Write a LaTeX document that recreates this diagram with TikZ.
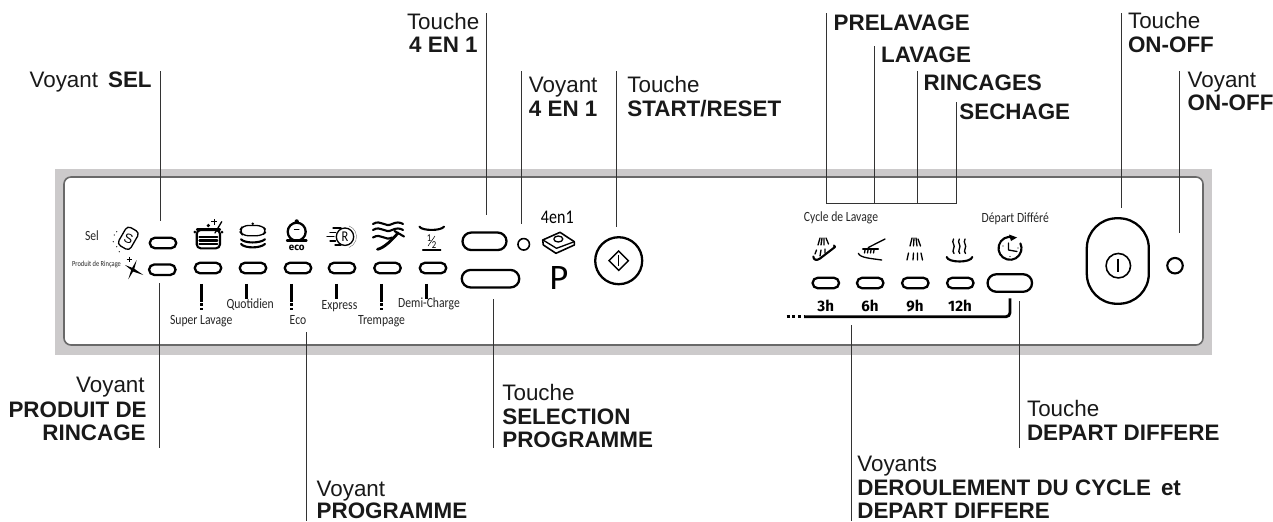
\documentclass[tikz,border=0pt]{standalone}
\usepackage{fontspec}
\setmainfont{Liberation Sans}
\newfontfamily\panelfont[FakeStretch=0.83]{Carlito}
\newfontfamily\hourfont{Fira Sans}
\usepackage{tikz}
\usetikzlibrary{shapes.misc,shapes.geometric}
\definecolor{framegray}{RGB}{204,202,203}
\definecolor{edgegray}{RGB}{105,105,105}
\tikzset{
  lbl/.style={inner sep=0pt,font=\fontsize{12.75}{13.6}\selectfont,text=black!90},
  plab/.style={inner sep=0pt,font=\panelfont\fontsize{8}{9}\selectfont,text=black!85},
  hlab/.style={inner sep=0pt,font=\hourfont\bfseries\fontsize{8.6}{9}\selectfont},
  leader/.style={line width=0.5pt,black!80},
  lamp/.style={draw,rounded rectangle,inner sep=0pt,line width=1.3pt,minimum width=0.53cm,minimum height=0.21cm},
  bigkey/.style={draw,rounded rectangle,inner sep=0pt,line width=1.3pt,minimum height=0.35cm},
  led/.style={draw,circle,inner sep=0pt,line width=0.9pt},
  prgbar/.style={line width=1.6pt},
  prgdots/.style={line width=1.6pt,dash pattern=on 1.5pt off 1.2pt},
  icon/.style={line width=0.75pt,line cap=round,line join=round},
  iconb/.style={line width=1.2pt,line cap=round,line join=round}
}
\begin{document}
\begin{tikzpicture}[x=0.02cm,y=-0.02cm]
\useasboundingbox (0,0) rectangle (1273,521);
\fill[framegray] (55,169) rectangle (1212,355);
\draw[edgegray,fill=white,line width=0.9pt,rounded corners=0.14cm] (64,177) rectangle (1203,345);

\coordinate (sel1) at (160,71); \coordinate (sel2) at (160,221); \draw[leader] (sel1) -- (sel2);
\coordinate (tq1) at (486.7,13); \coordinate (tq2) at (486.7,215); \draw[leader] (tq1) -- (tq2);
\coordinate (vq1) at (521.5,71); \coordinate (vq2) at (521.5,224); \draw[leader] (vq1) -- (vq2);
\coordinate (st1) at (616.7,71); \coordinate (st2) at (616.7,227); \draw[leader] (st1) -- (st2);
\coordinate (pre1) at (826,13); \coordinate (pre2) at (826,203.5); \draw[leader] (pre1) -- (pre2);
\coordinate (lav1) at (874.3,46); \coordinate (lav2) at (874.3,203.5); \draw[leader] (lav1) -- (lav2);
\coordinate (rin1) at (917.7,71); \coordinate (rin2) at (917.7,203.5); \draw[leader] (rin1) -- (rin2);
\coordinate (sec1) at (956,102); \coordinate (sec2) at (956,203.5); \draw[leader] (sec1) -- (sec2);
\draw[leader] (pre2) -- (sec2);
\coordinate (to1) at (1121,13); \coordinate (to2) at (1121,208); \draw[leader] (to1) -- (to2);
\coordinate (vo1) at (1179.3,71); \coordinate (vo2) at (1179.3,233); \draw[leader] (vo1) -- (vo2);
\coordinate (pd1) at (159,283); \coordinate (pd2) at (159,448); \draw[leader] (pd1) -- (pd2);
\coordinate (pg1) at (306,332); \coordinate (pg2) at (306,521); \draw[leader] (pg1) -- (pg2);
\coordinate (sp1) at (493.5,299); \coordinate (sp2) at (493.5,448); \draw[leader] (sp1) -- (sp2);
\coordinate (dc1) at (851.7,325); \coordinate (dc2) at (851.7,521); \draw[leader] (dc1) -- (dc2);
\coordinate (dd1) at (1019.3,301); \coordinate (dd2) at (1019.3,448); \draw[leader] (dd1) -- (dd2);

\node[lbl,anchor=base east] (lsel) at (152,87.3) {Voyant\, \textbf{SEL}};
\node[lbl,anchor=base east] (ltq1) at (479.6,29.3) {Touche};
\node[lbl,anchor=base east] (ltq2) at (478,52.7) {\textbf{4 EN 1}};
\node[lbl,anchor=base west] (lvq1) at (528.6,92.3) {Voyant};
\node[lbl,anchor=base west] (lvq2) at (528.6,116) {\textbf{4 EN 1}};
\node[lbl,anchor=base west] (lst1) at (627,92.3) {Touche};
\node[lbl,anchor=base west] (lst2) at (627,116) {\textbf{START/RESET}};
\node[lbl,anchor=base west] (lpre) at (833.3,30) {\textbf{PRELAVAGE}};
\node[lbl,anchor=base west] (llav) at (880.7,62.7) {\textbf{LAVAGE}};
\node[lbl,anchor=base west] (lrin) at (923.3,90) {\textbf{RINCAGES}};
\node[lbl,anchor=base west] (lsec) at (959,119.3) {\textbf{SECHAGE}};
\node[lbl,anchor=base west] (lto1) at (1127.7,28.3) {Touche};
\node[lbl,anchor=base west] (lto2) at (1127.7,52.7) {\textbf{ON-OFF}};
\node[lbl,anchor=base west] (lvo1) at (1187.3,87.3) {Voyant};
\node[lbl,anchor=base west] (lvo2) at (1187.3,110) {\textbf{ON-OFF}};
\node[lbl,anchor=base east] (lpd1) at (145,392.7) {Voyant};
\node[lbl,anchor=base east] (lpd2) at (147,417.7) {\textbf{PRODUIT DE}};
\node[lbl,anchor=base east] (lpd3) at (146,440.7) {\textbf{RINCAGE}};
\node[lbl,anchor=base west] (lsp1) at (502,400) {Touche};
\node[lbl,anchor=base west] (lsp2) at (502,424) {\textbf{SELECTION}};
\node[lbl,anchor=base west] (lsp3) at (502,447.3) {\textbf{PROGRAMME}};
\node[lbl,anchor=base west] (lpg1) at (316.3,496.7) {Voyant};
\node[lbl,anchor=base west] (lpg2) at (316.3,518.5) {\textbf{PROGRAMME}};
\node[lbl,anchor=base west] (ldd1) at (1026.7,416.7) {Touche};
\node[lbl,anchor=base west] (ldd2) at (1026.7,440.7) {\textbf{DEPART DIFFERE}};
\node[lbl,anchor=base west] (ldc1) at (857,471.7) {Voyants};
\node[lbl,anchor=base west] (ldc2) at (857,495.7) {\textbf{DEROULEMENT DU CYCLE\, et}};
\node[lbl,anchor=base west] (ldc3) at (857,518.5) {\textbf{DEPART DIFFERE}};

\node[lamp] (lsal) at (163,243) {};
\node[lamp] (lpro) at (162.3,269.7) {};
\node[lamp] (pr1) at (208,268) {};
\node[lamp] (pr2) at (253,268) {};
\node[lamp] (pr3) at (298,268) {};
\node[lamp] (pr4) at (342,268) {};
\node[lamp] (pr5) at (387.5,268) {};
\node[lamp] (pr6) at (433,268) {};
\node[lamp] (cy1) at (825.8,283) {};
\node[lamp] (cy2) at (870.2,283) {};
\node[lamp] (cy3) at (915.3,283) {};
\node[lamp] (cy4) at (960.3,283) {};
\node[bigkey,minimum width=0.88cm] (kq) at (484.5,241.3) {};
\node[bigkey,minimum width=1.15cm] (ksp) at (490.5,278.7) {};
\node[bigkey,minimum width=0.89cm] (kdd) at (1009.8,283) {};
\node[led,minimum size=0.23cm] (ledq) at (523.7,244.3) {};
\node[led,line width=1.2pt,minimum size=0.31cm] (ledo) at (1175,265.7) {};
\node[draw,circle,inner sep=0pt,line width=1.3pt,minimum size=0.94cm] (kst) at (618.7,260.7) {};
\node[draw,diamond,inner sep=0pt,line width=0.8pt,minimum size=0.4cm] (kstd) at (618.7,260.7) {};
\draw[line width=0.8pt] ([yshift=0.11cm] kstd.center) -- ([yshift=-0.11cm] kstd.center);
\node[draw,rectangle,inner sep=0pt,line width=1.3pt,rounded corners=0.6cm,minimum width=1.24cm,minimum height=1.71cm] (kon) at (1117.8,261) {};
\node[led,minimum size=0.49cm] (konc) at (1118.3,265.7) {};
\draw[line width=1pt] ([yshift=0.14cm] konc.center) -- ([yshift=-0.12cm] konc.center);

\draw[prgbar] ([xshift=-0.126cm,yshift=-0.19cm] pr1.south) -- ([xshift=-0.126cm,yshift=-0.55cm] pr1.south);
\draw[prgdots] ([xshift=-0.126cm,yshift=-0.574cm] pr1.south) -- ([xshift=-0.126cm,yshift=-0.72cm] pr1.south);
\draw[prgbar] ([xshift=-0.134cm,yshift=-0.19cm] pr2.south) -- ([xshift=-0.134cm,yshift=-0.5cm] pr2.south);
\draw[prgbar] ([xshift=-0.126cm,yshift=-0.19cm] pr3.south) -- ([xshift=-0.126cm,yshift=-0.55cm] pr3.south);
\draw[prgdots] ([xshift=-0.126cm,yshift=-0.574cm] pr3.south) -- ([xshift=-0.126cm,yshift=-0.72cm] pr3.south);
\draw[prgbar] ([xshift=-0.106cm,yshift=-0.19cm] pr4.south) -- ([xshift=-0.106cm,yshift=-0.5cm] pr4.south);
\draw[prgbar] ([xshift=-0.124cm,yshift=-0.19cm] pr5.south) -- ([xshift=-0.124cm,yshift=-0.55cm] pr5.south);
\draw[prgdots] ([xshift=-0.124cm,yshift=-0.574cm] pr5.south) -- ([xshift=-0.124cm,yshift=-0.72cm] pr5.south);
\draw[prgbar] ([xshift=-0.126cm,yshift=-0.19cm] pr6.south) -- ([xshift=-0.126cm,yshift=-0.5cm] pr6.south);

\coordinate (bar1) at (804,316.7); \coordinate (bar2) at (1010,316.7); \coordinate (bar3) at (1010,298.3); \coordinate (bar0) at (786.7,316.7);
\draw[prgbar,rounded corners=0.08cm] (bar1) -- (bar2) -- (bar3);
\draw[prgbar,dash pattern=on 1.7pt off 1.5pt] (bar0) -- (bar1);

\node[plab] (tsel) at (92,236) {Sel};
\node[plab,font=\panelfont\fontsize{4.4}{5}\selectfont] (tpro) at (96.5,264) {Produit de Rinçage};
\node[plab] (tsup) at (201.2,320.7) {Super Lavage};
\node[plab] (tquo) at (250.2,305) {Quotidien};
\node[plab] (teco) at (298,320) {Eco};
\node[plab] (texp) at (339.5,305.7) {Express};
\node[plab] (ttre) at (381.5,320.7) {Trempage};
\node[plab] (tdem) at (429,304) {Demi-Charge};
\node[plab] (tcyc) at (841,217.7) {Cycle de Lavage};
\node[plab] (tdep) at (1015.3,219) {Départ Différé};
\node[hlab] (h3) at (825.7,306) {3h};
\node[hlab] (h6) at (870,306) {6h};
\node[hlab] (h9) at (915,306) {9h};
\node[hlab] (h12) at (960,306) {12h};
\node[inner sep=0pt,font=\panelfont\fontsize{11}{12}\selectfont] (t4en) at (557.3,217) {4en1};
\node[inner sep=0pt,anchor=base,font=\hourfont\fontsize{19}{20}\selectfont] (tp) at (558.5,289) {P};

\draw[icon,rotate around={-30:(128.3,238.3)},rounded corners=0.08cm] (121.3,227.8) rectangle (135.3,248.8);
\node[inner sep=0pt,rotate=-20,font=\fontsize{7.5}{8}\selectfont] (ssalt) at (128.5,238.5) {S};
\fill (116.7,231.7) circle (0.6) (114.3,235) circle (0.6) (113.3,241.7) circle (0.6) (116.7,246.7) circle (0.6) (119.3,251.7) circle (0.6);
\fill (125,265) -- (134,268.5) -- (143.3,275) -- (133,271.5) -- cycle;
\fill (136.7,260) -- (134,270) -- (128.3,279.3) -- (131.5,269) -- cycle;
\draw[line width=0.3pt] (129.3,256.5) -- (129.3,262) (126.6,259.3) -- (132,259.3);

\draw[iconb,fill=white,rounded corners=0.08cm] (196.7,230) rectangle (220,248.3);
\fill (208.3,225.5) circle (1.8) (194.8,232) circle (1.5) (222,232) circle (1.5);
\draw[iconb] (197,229.5) -- (220,229.5);
\draw[iconb] (199.5,236.7) -- (217.3,236.7) (199.5,240.5) -- (217.3,240.5) (199.5,244) -- (217.3,244);
\draw[icon] (221.7,221.7) -- (215,233);
\draw[line width=0.3pt] (214,219) -- (214,224.5) (211.3,221.7) -- (216.7,221.7);

\draw[icon,rounded corners=0.1cm] (239.3,231) -- (243,225.5) -- (262,225.5) -- (267,231) -- (262,235.7) -- (243,235.7) -- cycle;
\fill (252.7,223.7) circle (1.4);
\draw[iconb] (241,239.3) .. controls (245,243.5) and (260,243.5) .. (265,239.3);
\draw[iconb] (241,244) .. controls (245,248.5) and (260,248.5) .. (265,244);

\draw[iconb,line width=1.3pt] (296.7,231.7) circle (9);
\fill (296.7,221.5) circle (2.2);
\draw[icon] (294.5,229.5) -- (298.9,229.5);
\draw[iconb,line width=1.3pt] (287,240.5) -- (306.5,240.5);
\node[inner sep=0pt,font=\hourfont\bfseries\fontsize{5.6}{6}\selectfont] (teco2) at (296.7,247.7) {eco};

\draw[icon] (345,236.7) circle (8.7);
\node[inner sep=0pt,font=\panelfont\fontsize{8.5}{9}\selectfont] (tr) at (345,236.7) {R};
\draw[line width=0.2pt,black!60] (345,236.7) ++(-70:11.5) arc[start angle=-70,end angle=70,radius=11.5];
\draw[icon] (333,228) -- (341,228) (330,232.5) -- (335.5,232.5) (327,236.7) -- (334,236.7) (330,241) -- (335.5,241) (335,245) -- (341,245);

\draw[iconb] (373,224) .. controls (381,219) and (385,228) .. (392,224) .. controls (396,222) and (400,222) .. (403,224);
\draw[iconb] (373,230) .. controls (381,225) and (385,234) .. (392,230) .. controls (396,228) and (400,228) .. (403,230);
\draw[iconb] (373,237.5) .. controls (381,232.5) and (385,241.5) .. (392,237.5);
\draw[line width=1.6pt,line cap=round] (377.5,249.3) .. controls (384,248) and (392,240) .. (398,233);
\draw[iconb] (398,233) -- (394.5,231) (398,233) -- (404,236.5);

\draw[iconb] (419.5,226.7) .. controls (422,231) and (441,231) .. (444,226.7);
\node[inner sep=0pt,font=\panelfont\fontsize{6}{7}\selectfont] (thalf1) at (429,238) {1};
\node[inner sep=0pt,font=\panelfont\fontsize{6}{7}\selectfont] (thalf2) at (434,245) {2};
\draw[line width=0.3pt] (428,246) -- (435,236);
\draw[icon] (422.7,250) -- (440.7,250);

\draw[icon,line width=0.9pt] (542.7,240) -- (560,232.3) -- (574.3,241.7) -- (574.3,245) -- (556,253.3) -- (543.3,245) -- cycle;
\draw[icon] (543,240) -- (556.5,248.3) -- (574.3,241.7);
\draw[icon] (558.3,239) ellipse (4.5 and 3);

\draw[icon] (820,238) -- (818,245) (822,238) -- (821,245) (824,238) -- (824,245) (826,238) -- (828.5,244);
\draw[icon] (815,254) -- (816.5,250) (820,256) -- (821,250) (825,253) -- (825,249);
\draw[iconb] (813.3,256.5) .. controls (813.5,260) and (816.5,261) .. (820,258.5) -- (835,247) -- (834,245.5);

\draw[icon] (868.3,247.5) -- (885,239);
\draw[iconb] (863,249) -- (878,249);
\draw[icon] (865,250) -- (864.5,253) (868,250) -- (867.5,253) (871,250) -- (870.5,253) (874,250) -- (873.5,253);
\draw[icon] (858.3,253.3) .. controls (860,258) and (872,258.5) .. (881.7,260);

\draw[icon] (912,238) -- (910,246) (914,238) -- (913.5,246) (916,238) -- (917,246) (918,239) -- (920.5,246);
\draw[icon] (907,260) -- (908.5,253) (913,260) -- (913.5,253) (917.5,260) -- (917.5,253) (922.5,260) -- (921,253);

\draw[icon] (953.5,239) .. controls (951,243) and (956,245) .. (953.5,249) .. controls (952.5,251) and (953,252) .. (954,253.5);
\draw[icon] (959.3,239) .. controls (956.8,243) and (961.8,245) .. (959.3,249) .. controls (958.3,251) and (958.8,252) .. (959.8,253.5);
\draw[icon] (965,239) .. controls (962.5,243) and (967.5,245) .. (965,249) .. controls (964,251) and (964.5,252) .. (965.5,253.5);
\draw[iconb] (946.7,257) .. controls (948,263) and (971,263) .. (972.3,257);

\draw[iconb] (1010,248.3) ++(-75:11.5) arc[start angle=-75,end angle=-385,radius=11.5];
\fill (1009,234.5) -- (1017,237.5) -- (1011,241) -- cycle;
\draw[icon] (1008.5,243) -- (1008.5,250) -- (1017,251.5);
\fill (1003,246) circle (0.7) (1010,256.5) circle (0.7) (1018,248) circle (0.7);
\end{tikzpicture}
\end{document}
